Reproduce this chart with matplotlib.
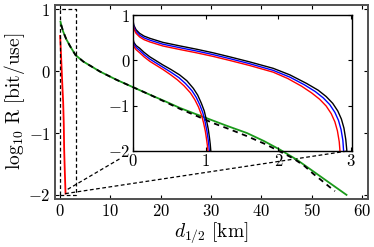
import matplotlib
matplotlib.use("Agg")
import matplotlib.pyplot as plt

plt.rcParams['mathtext.fontset'] = 'cm'
plt.rcParams['font.family'] = 'serif'
plt.rcParams['font.serif'] = ['DejaVu Serif']

# main panel: green (solid), black dashed, red
g_x = [0.07, 0.3, 0.6, 1.2, 2, 3.06, 4.6, 7.9, 11.2, 14.5, 17.8, 20.8, 23.8,
       26.5, 29.1, 33, 37.1, 40.5, 43.7, 47, 50.3, 53.6, 56.9]
g_y = [0.80, 0.72, 0.64, 0.52, 0.40, 0.26, 0.155, -0.006, -0.14, -0.26, -0.38,
       -0.485, -0.595, -0.68, -0.76, -0.88, -1.00, -1.13, -1.27, -1.43, -1.62,
       -1.81, -2.0]
d_x = [0.2, 0.6, 1.2, 2, 3.06, 4.6, 7.9, 11.2, 14.5, 17.8, 20.8, 23.8, 27,
       30.4, 33.7, 37.1, 40.5, 43.7, 46.3, 48.5, 50.3, 52, 53.5, 54.6]
d_y = [0.75, 0.64, 0.52, 0.40, 0.26, 0.155, -0.006, -0.14, -0.26, -0.38,
       -0.495, -0.61, -0.72, -0.84, -0.94, -1.05, -1.17, -1.30, -1.41, -1.53,
       -1.66, -1.77, -1.87, -1.94]
r_x = [0.0, 0.1, 0.28, 0.45, 0.6, 0.72, 0.8, 0.92, 1.07]
r_y = [0.57, 0.40, 0.07, -0.25, -0.50, -0.85, -1.27, -1.60, -1.98]

# inset: upper group
k1_x = [0, 0.01, 0.04, 0.09, 0.15, 0.23, 0.41, 0.65, 0.87, 1.10, 1.33, 1.60,
        1.93, 2.16, 2.39, 2.55, 2.66, 2.75, 2.82, 2.87, 2.905, 2.93, 2.945]
k1_y = [0.87, 0.78, 0.68, 0.60, 0.54, 0.49, 0.40, 0.32, 0.25, 0.17, 0.08,
        -0.03, -0.175, -0.32, -0.51, -0.66, -0.80, -0.95, -1.12, -1.30, -1.50,
        -1.75, -2.0]
b1_x = [0, 0.01, 0.04, 0.09, 0.15, 0.23, 0.41, 0.65, 0.87, 1.10, 1.33, 1.60,
        1.93, 2.16, 2.36, 2.51, 2.62, 2.71, 2.78, 2.83, 2.865, 2.89, 2.90]
b1_y = [0.83, 0.74, 0.64, 0.56, 0.50, 0.45, 0.36, 0.28, 0.21, 0.13, 0.04,
        -0.07, -0.22, -0.37, -0.54, -0.69, -0.83, -0.98, -1.15, -1.33, -1.53,
        -1.77, -2.0]
r1_x = [0, 0.01, 0.04, 0.09, 0.15, 0.23, 0.41, 0.65, 0.87, 1.10, 1.33, 1.60,
        1.93, 2.13, 2.32, 2.46, 2.57, 2.66, 2.73, 2.78, 2.815, 2.84, 2.85]
r1_y = [0.79, 0.70, 0.60, 0.52, 0.46, 0.41, 0.32, 0.24, 0.17, 0.09, 0.00,
        -0.11, -0.26, -0.40, -0.57, -0.72, -0.86, -1.01, -1.18, -1.36, -1.56,
        -1.80, -2.0]

# inset: lower group
k2_x = [0, 0.01, 0.04, 0.09, 0.15, 0.23, 0.32, 0.41, 0.52, 0.64, 0.74, 0.83,
        0.89, 0.94, 0.98, 1.01, 1.035, 1.05, 1.062, 1.07]
k2_y = [0.47, 0.40, 0.33, 0.27, 0.18, 0.08, -0.01, -0.10, -0.20, -0.32, -0.45,
        -0.62, -0.77, -0.95, -1.12, -1.32, -1.52, -1.69, -1.85, -2.0]
b2_x = [0, 0.01, 0.04, 0.09, 0.15, 0.23, 0.32, 0.41, 0.52, 0.63, 0.72, 0.81,
        0.87, 0.92, 0.96, 0.99, 1.015, 1.03, 1.042, 1.05]
b2_y = [0.43, 0.36, 0.29, 0.22, 0.13, 0.03, -0.06, -0.15, -0.26, -0.38, -0.51,
        -0.67, -0.82, -0.99, -1.16, -1.35, -1.55, -1.71, -1.86, -2.0]
r2_x = [0, 0.01, 0.04, 0.09, 0.15, 0.23, 0.32, 0.41, 0.51, 0.61, 0.70, 0.79,
        0.85, 0.90, 0.94, 0.97, 0.995, 1.01, 1.022, 1.03]
r2_y = [0.38, 0.31, 0.24, 0.17, 0.08, -0.02, -0.11, -0.20, -0.31, -0.43,
        -0.56, -0.72, -0.87, -1.03, -1.20, -1.38, -1.57, -1.73, -1.87, -2.0]

# zoom box and connector lines (main data coords)
box_x = [0, 3.06, 3.06, 0, 0]
box_y = [-2, -2, 1, 1, -2]
conn1_x = [1.5, 12.2]
conn1_y = [-1.91, -1.40]
conn2_x = [1.0, 57.2]
conn2_y = [-1.98, -1.29]

xticks_main = [0, 10, 20, 30, 40, 50, 60]
yticks = [-2, -1, 0, 1]
xticks_inset = [0, 1, 2, 3]


def fmt(v):
    return r'$%d$' % v if v >= 0 else r'$-%d$' % (-v)


fig = plt.figure(figsize=(3.74, 2.47), dpi=100)
ax = fig.add_axes([0.146, 0.196, 0.837, 0.784])
ax.plot(g_x, g_y, color='#1a9a1a', lw=1.3, zorder=3)
ax.plot(d_x, d_y, color='black', lw=1.3, ls=(0, (3, 2.5)), zorder=3)
ax.plot(r_x, r_y, color='red', lw=1.3)
ax.plot(box_x, box_y, color='black', lw=0.9, ls=(0, (3, 2)))
ax.plot(conn1_x, conn1_y, color='black', lw=0.9, ls=(0, (3, 2)))
ax.plot(conn2_x, conn2_y, color='black', lw=0.9, ls=(0, (3, 2)))
ax.set_xlim(-1.1, 61.1)
ax.set_ylim(-2.06, 1.07)
ax.set_xticks(xticks_main)
ax.set_xticklabels([fmt(v) for v in xticks_main])
ax.set_yticks(yticks)
ax.set_yticklabels([fmt(v) for v in yticks])
ax.tick_params(direction='in', top=True, right=True, labelsize=12, length=3,
               width=0.8, pad=3)
for s in ax.spines.values():
    s.set_linewidth(1.4)
    s.set_color('#505050')
ax.set_xlabel(r'$d_{1/2}\ \mathrm{[km]}$', fontsize=14, labelpad=0)
ax.set_ylabel(r'$\log_{10}\,\mathrm{R}\ \mathrm{[bit/use]}$', fontsize=14,
              labelpad=1)

ins = fig.add_axes([0.356, 0.390, 0.584, 0.548])
ins.patch.set_alpha(0)
ins.plot(k1_x, k1_y, color='black', lw=1.0)
ins.plot(b1_x, b1_y, color='blue', lw=1.0)
ins.plot(r1_x, r1_y, color='red', lw=1.0)
ins.plot(k2_x, k2_y, color='black', lw=1.0)
ins.plot(b2_x, b2_y, color='blue', lw=1.0)
ins.plot(r2_x, r2_y, color='red', lw=1.0)
ins.set_xlim(0, 3.01)
ins.set_ylim(-2, 1)
ins.set_xticks(xticks_inset)
ins.set_xticklabels([fmt(v) for v in xticks_inset])
ins.set_yticks(yticks)
ins.set_yticklabels([fmt(v) for v in yticks])
ins.tick_params(direction='in', top=True, right=True, labelsize=12, length=3,
                width=0.8, pad=2)
for s in ins.spines.values():
    s.set_linewidth(1.0)
    s.set_color('black')

fig.savefig('out.png', dpi=100)
